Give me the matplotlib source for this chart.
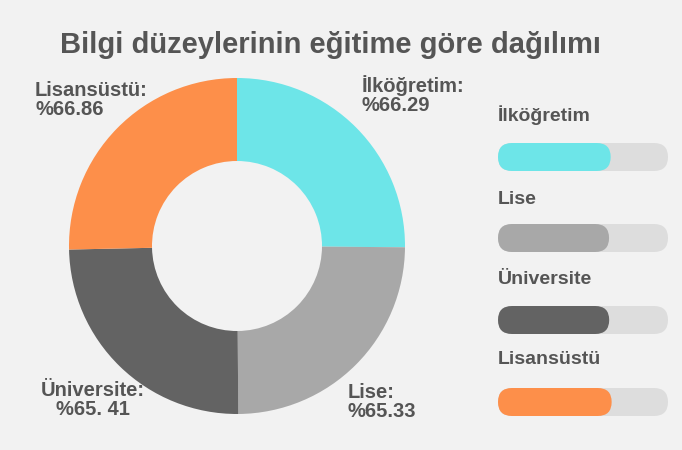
import matplotlib
matplotlib.use("Agg")
import matplotlib.pyplot as plt
from matplotlib.patches import Wedge, FancyBboxPatch

categories = ["İlköğretim", "Lise", "Üniversite", "Lisansüstü"]
values = [66.29, 65.33, 65.41, 66.86]
value_labels = ["%66.29", "%65.33", "%65. 41", "%66.86"]
colors = ["#6de5e8", "#a8a8a8", "#636363", "#fd8f4a"]
title = "Bilgi düzeylerinin eğitime göre dağılımı"

W, H = 682, 450
fig = plt.figure(figsize=(W/100, H/100), dpi=100, facecolor="#f2f2f2")
ax = fig.add_axes([0, 0, 1, 1])
ax.set_xlim(0, W); ax.set_ylim(0, H); ax.axis("off")
ax.set_facecolor("#f2f2f2")
Y = lambda y: H - y
font = "Liberation Sans"
tc = "#555555"

cx, cy, R, w = 237, 246, 168, 83
total = sum(values)
start = 90
for v, c in zip(values, colors):
    ext = v / total * 360
    ax.add_patch(Wedge((cx, Y(cy)), R, start - ext, start, width=w, facecolor=c, edgecolor="none"))
    start -= ext

ax.text(330, Y(45), title, ha="center", va="center", fontsize=21, fontweight="bold", color=tc, family=font)

lab = dict(fontsize=14.5, fontweight="bold", color=tc, family=font, linespacing=1.0)
ax.text(362, Y(95), categories[0] + ":\n" + value_labels[0], ha="left", va="center", **lab)
ax.text(348, Y(402), categories[1] + ":\n" + value_labels[1], ha="left", va="center", **lab)
ax.text(93, Y(400), categories[2] + ":\n" + value_labels[2], ha="center", va="center", multialignment="center", **lab)
ax.text(35, Y(100), categories[3] + ":\n" + value_labels[3], ha="left", va="center", **lab)

x0, bw, bh = 498, 170, 28
label_y = [115, 200, 280, 360]
bar_y = [157, 238, 320, 402]
for cat, v, c, ly, by in zip(categories, values, colors, label_y, bar_y):
    ax.text(x0, Y(ly), cat, ha="left", va="center", fontsize=14, fontweight="bold", color=tc, family=font)
    ax.add_patch(FancyBboxPatch((x0, Y(by) - bh/2), bw, bh, boxstyle="round,pad=0,rounding_size=14",
                                facecolor="#dddddd", edgecolor="none"))
    ax.add_patch(FancyBboxPatch((x0, Y(by) - bh/2), bw * v / 100, bh, boxstyle="round,pad=0,rounding_size=14",
                                facecolor=c, edgecolor="none"))

fig.savefig("out.png", dpi=100, facecolor="#f2f2f2")
